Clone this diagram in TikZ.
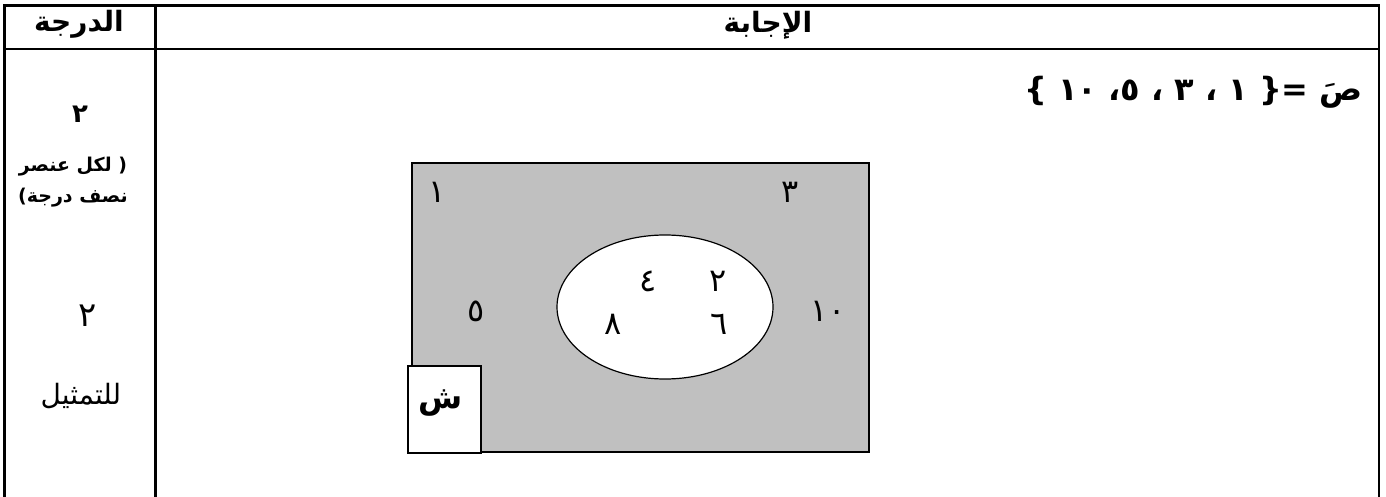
\documentclass[tikz,border=0pt]{standalone}
\usepackage{fontspec}
\setmainfont{DejaVu Sans}
\newfontfamily\ar[Script=Arabic]{DejaVu Sans}
\TeXXeTstate=1
\usetikzlibrary{shapes.geometric}
\definecolor{venngray}{RGB}{192,192,192}
\tikzset{
  rule/.style={line width=2.6pt},
  txt/.style={inner sep=0pt, outer sep=0pt},
  venndigit/.style={txt, font=\ar\fontsize{32}{36}\selectfont},
}
\begin{document}
\begin{tikzpicture}[x=1pt,y=-1pt]
\useasboundingbox (0,0) rectangle (1386,497);
\fill[white] (0,0) rectangle (1386,497);
% table rules
\draw[rule] (4.5,497) -- (4.5,5.5) -- (1379,5.5) -- (1379,497);
\draw[rule] (4.5,49) -- (1379,49);
\draw[rule] (155.5,5.5) -- (155.5,497);
% headers
\node[txt, font=\ar\bfseries\fontsize{28}{32}\selectfont] (hgrade) at (79,24) {\beginR الدرجة\endR};
\node[txt, font=\ar\bfseries\fontsize{28}{32}\selectfont] (hans) at (768,25) {\beginR الإجابة\endR};
% left column
\node[txt, font=\ar\bfseries\fontsize{26}{30}\selectfont] (g1) at (80,114) {٢};
\node[txt, font=\ar\bfseries\fontsize{19}{23}\selectfont] (g1a) at (73,167) {\beginR ( لكل عنصر\endR};
\node[txt, font=\ar\bfseries\fontsize{19}{23}\selectfont] (g1b) at (73,198) {\beginR نصف درجة)\endR};
\node[txt, font=\ar\fontsize{34}{38}\selectfont] (g2) at (88,316) {٢};
\node[txt, font=\ar\fontsize{28}{32}\selectfont] (g2a) at (81,396) {\beginR للتمثيل\endR};
% equation
\node[txt, anchor=east, font=\ar\bfseries\fontsize{32}{36}\selectfont] (eq) at (1363,92)
  {\beginR صَ =\{ ١ ، ٣ ، ٥، ١٠ \}\endR};
% Venn diagram
\node[draw, line width=1.2pt, fill=venngray, minimum width=457pt, minimum height=289pt, inner sep=0pt] (univ) at (640.5,307.5) {};
\node[draw, line width=1.2pt, fill=white, ellipse, minimum width=216pt, minimum height=144pt, inner sep=0pt] (setA) at (665,307) {};
\node[draw, line width=1.2pt, fill=white, minimum width=73pt, minimum height=87pt, inner sep=0pt] (ubox) at (444.5,409.5) {};
\node[txt, font=\ar\bfseries\fontsize{32}{36}\selectfont] (ush) at (441,403) {ش};
\node[venndigit] (n1) at (437,192) {١};
\node[venndigit] (n3) at (790,192) {٣};
\node[venndigit] (n5) at (476,311) {٥};
\node[venndigit] (n10) at (828,311) {١٠};
\node[venndigit] (n4) at (648,281) {٤};
\node[venndigit] (n2) at (718,281) {٢};
\node[venndigit] (n8) at (613,324) {٨};
\node[venndigit] (n6) at (719,324) {٦};
\end{tikzpicture}
\end{document}
